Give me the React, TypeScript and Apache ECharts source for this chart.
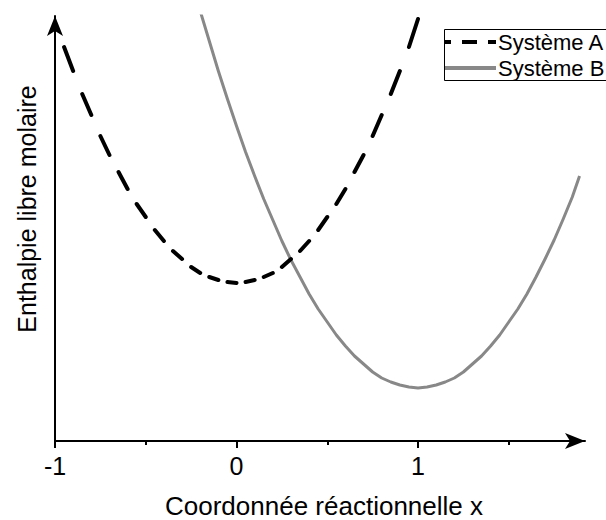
import React, { useEffect, useRef } from "react";
import * as echarts from "echarts";

// Axis / text content
const xTickLabels = [-1, 0, 1];
const xMinorTicks = [-0.5, 0.5, 1.5];
const seriesNames = ["Système A", "Système B"];
const xTitle = "Coordonnée réactionnelle x";
const yTitle = "Enthalpie libre molaire";

// Système A (dashed): points read at dash ends
const aX = [-0.95, -0.9, -0.85, -0.8, -0.75, -0.7, -0.65, -0.6, -0.55, -0.5, -0.45, -0.4, -0.35, -0.3, -0.25, -0.2, -0.15, -0.1, -0.05, 0.0,
  0.05, 0.1, 0.15, 0.2, 0.25, 0.3, 0.35, 0.4, 0.45, 0.5, 0.55, 0.6, 0.65, 0.7, 0.75, 0.8, 0.85, 0.9, 0.95, 1.0];
const aY = [3.94, 3.70, 3.47, 3.26, 3.05, 2.86, 2.69, 2.52, 2.37, 2.24, 2.11, 2.00, 1.90, 1.82, 1.74, 1.68, 1.64, 1.61, 1.59, 1.58,
  1.59, 1.61, 1.64, 1.68, 1.74, 1.82, 1.90, 2.00, 2.11, 2.24, 2.37, 2.52, 2.69, 2.86, 3.05, 3.26, 3.47, 3.70, 3.94, 4.22];

// Système B (solid grey)
const bX = [-0.2, -0.15, -0.1, -0.05, 0.0, 0.05, 0.1, 0.15, 0.2, 0.25, 0.3, 0.35, 0.4, 0.45, 0.5, 0.55, 0.6, 0.65, 0.7, 0.75, 0.8, 0.85, 0.9, 0.95,
  1.0, 1.05, 1.1, 1.15, 1.2, 1.25, 1.3, 1.35, 1.4, 1.45, 1.5, 1.55, 1.6, 1.65, 1.7, 1.75, 1.8, 1.85, 1.89];
const bY = [4.30, 4.00, 3.70, 3.42, 3.15, 2.89, 2.65, 2.42, 2.21, 2.00, 1.81, 1.64, 1.47, 1.32, 1.19, 1.06, 0.95, 0.85, 0.77, 0.69, 0.63, 0.59, 0.56, 0.54,
  0.53, 0.54, 0.56, 0.59, 0.63, 0.69, 0.77, 0.85, 0.95, 1.06, 1.19, 1.32, 1.47, 1.64, 1.82, 2.01, 2.22, 2.44, 2.65];

const FONT = '"Liberation Sans", Arial, sans-serif';

export default function App() {
  const ref = useRef<HTMLDivElement>(null);

  useEffect(() => {
    if (!ref.current) return;
    const chart = echarts.init(ref.current, null, { renderer: "svg" });

    const aData: any[] = [];
    for (let i = 0; i + 1 < aX.length; i += 2) {
      aData.push([aX[i], aY[i]]);
      aData.push([aX[i + 1], aY[i + 1]]);
      aData.push([aX[i + 1], "-"]);
    }
    const bData = bX.map((x, i) => [x, bY[i]]);

    const gridPos = { left: 55, right: 21, top: 16, bottom: 79 };
    const xMin = -1;
    const xMax = 1.92;

    chart.setOption({
      animation: false,
      backgroundColor: "#ffffff",
      textStyle: { fontFamily: FONT },
      grid: [
        { ...gridPos, containLabel: false },
        { ...gridPos, containLabel: false },
      ],
      xAxis: [
        {
          type: "value",
          gridIndex: 0,
          min: xMin,
          max: xMax,
          axisLine: {
            show: true,
            onZero: false,
            symbol: ["none", "arrow"],
            symbolSize: [12, 20],
            symbolOffset: [0, 0],
            lineStyle: { color: "#000", width: 2 },
          },
          axisTick: {
            show: true,
            customValues: xTickLabels,
            length: 7,
            lineStyle: { color: "#000", width: 2 },
          },
          axisLabel: {
            show: true,
            customValues: xTickLabels,
            fontSize: 25,
            color: "#000",
            fontFamily: FONT,
            margin: 12,
          },
          splitLine: { show: false },
        },
        {
          type: "value",
          gridIndex: 1,
          min: xMin,
          max: xMax,
          position: "bottom",
          axisLine: { show: false },
          axisTick: {
            show: true,
            customValues: xMinorTicks,
            length: 4,
            lineStyle: { color: "#000", width: 2 },
          },
          axisLabel: { show: false },
          splitLine: { show: false },
        },
      ],
      yAxis: [
        {
          type: "value",
          gridIndex: 0,
          min: 0,
          max: 4.25,
          axisLine: {
            show: true,
            onZero: false,
            symbol: ["none", "arrow"],
            symbolSize: [12, 20],
            symbolOffset: [0, 0],
            lineStyle: { color: "#000", width: 2 },
          },
          axisTick: { show: false },
          axisLabel: { show: false },
          splitLine: { show: false },
        },
        {
          type: "value",
          gridIndex: 1,
          min: 0,
          max: 4.25,
          show: false,
        },
      ],
      series: [
        {
          name: seriesNames[0],
          type: "line",
          xAxisIndex: 0,
          yAxisIndex: 0,
          data: aData,
          showSymbol: false,
          connectNulls: false,
          clip: true,
          lineStyle: { color: "#000", width: 4, cap: "round" },
          z: 3,
        },
        {
          name: seriesNames[1],
          type: "line",
          xAxisIndex: 0,
          yAxisIndex: 0,
          data: bData,
          smooth: false,
          showSymbol: false,
          clip: true,
          lineStyle: { color: "#888888", width: 3, join: "round" },
          z: 2,
        },
      ],
      graphic: [
        {
          type: "text",
          x: 324,
          y: 506,
          style: {
            text: xTitle,
            font: `26px ${FONT}`,
            fill: "#000",
            textAlign: "center",
            textVerticalAlign: "middle",
          },
        },
        {
          type: "text",
          x: 27,
          y: 209,
          rotation: Math.PI / 2,
          style: {
            text: yTitle,
            font: `25px ${FONT}`,
            fill: "#000",
            textAlign: "center",
            textVerticalAlign: "middle",
          },
        },
        {
          type: "rect",
          shape: { x: 444.5, y: 29.5, width: 200, height: 51 },
          style: { fill: "#fff", stroke: "#000", lineWidth: 1 },
          z: 10,
        },
        {
          type: "line",
          shape: { x1: 445, y1: 42, x2: 451, y2: 42 },
          style: { stroke: "#000", lineWidth: 4 },
          z: 11,
        },
        {
          type: "line",
          shape: { x1: 462, y1: 42, x2: 477, y2: 42 },
          style: { stroke: "#000", lineWidth: 4 },
          z: 11,
        },
        {
          type: "line",
          shape: { x1: 488, y1: 42, x2: 496, y2: 42 },
          style: { stroke: "#000", lineWidth: 4 },
          z: 11,
        },
        {
          type: "line",
          shape: { x1: 445, y1: 68, x2: 496, y2: 68 },
          style: { stroke: "#888888", lineWidth: 4 },
          z: 11,
        },
        {
          type: "text",
          x: 498,
          y: 42,
          style: {
            text: seriesNames[0],
            font: `22px ${FONT}`,
            fill: "#000",
            textAlign: "left",
            textVerticalAlign: "middle",
          },
          z: 11,
        },
        {
          type: "text",
          x: 498,
          y: 68,
          style: {
            text: seriesNames[1],
            font: `22px ${FONT}`,
            fill: "#000",
            textAlign: "left",
            textVerticalAlign: "middle",
          },
          z: 11,
        },
      ],
    });

    return () => {
      chart.dispose();
    };
  }, []);

  return (
    <div
      ref={ref}
      style={{ position: "absolute", left: 0, top: 0, width: 606, height: 520 }}
    />
  );
}
